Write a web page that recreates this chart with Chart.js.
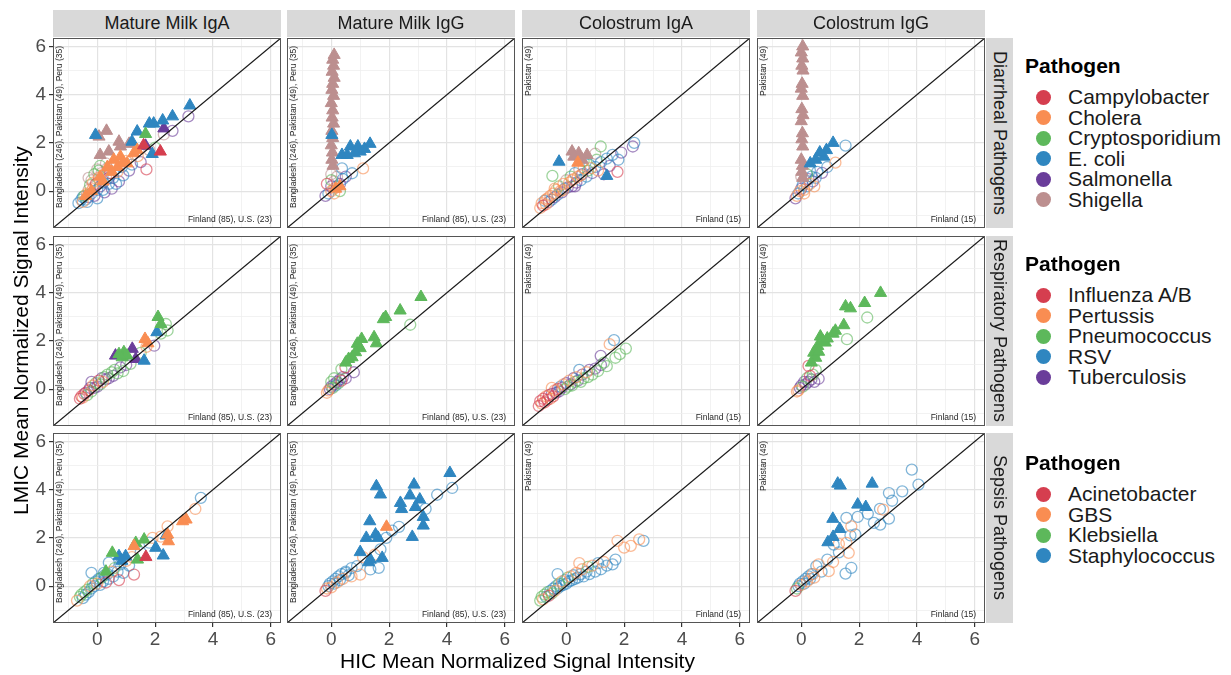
<!DOCTYPE html>
<html>
<head>
<meta charset="utf-8">
<script src="https://cdn.jsdelivr.net/npm/chart.js@4"></script>
<style>
  body { margin: 0; background: #fff; font-family: 'Liberation Sans', Arial, sans-serif; }
  #wrap { position: relative; width: 1231px; height: 675px; overflow: hidden; }
  #wrap canvas { position: absolute; }
  .strip { position: absolute; background: #D9D9D9; color: #1A1A1A; font-size: 18px;
           display: flex; align-items: center; justify-content: center; white-space: nowrap; }
  .vstrip { writing-mode: vertical-rl; }
  .lab { position: absolute; white-space: nowrap; color: #000; }
  .note { position: absolute; white-space: nowrap; font-size: 8.5px; color: #262626; line-height: 10px; }
  .up { writing-mode: vertical-rl; transform: rotate(180deg); }
  .dot { position: absolute; width: 15px; height: 15px; border-radius: 50%; }
</style>
</head>
<body>
<div id="wrap"></div>
<script>
// facets and groups
const facetCols = ['Mature Milk IgA', 'Mature Milk IgG', 'Colostrum IgA', 'Colostrum IgG'];
const facetRows = ['Diarrheal Pathogens', 'Respiratory Pathogens', 'Sepsis Pathogens'];
const diarrhealPathogens = ['Campylobacter', 'Cholera', 'Cryptosporidium', 'E. coli', 'Salmonella', 'Shigella'];
const respiratoryPathogens = ['Influenza A/B', 'Pertussis', 'Pneumococcus', 'RSV', 'Tuberculosis'];
const sepsisPathogens = ['Acinetobacter', 'GBS', 'Klebsiella', 'Staphylococcus'];
const pathogenColors = ['#D53E4F', '#F98D52', '#5DB85B', '#2F86C0', '#6A3D9A', '#BC8F8F'];
const lmicNotes = ['Bangladesh (246), Pakistan (49), Peru (35)', 'Bangladesh (246), Pakistan (49), Peru (35)', 'Pakistan (49)', 'Pakistan (49)'];
const hicNotes = ['Finland (85), U.S. (23)', 'Finland (85), U.S. (23)', 'Finland (15)', 'Finland (15)'];
const tickVals = [-1, 0, 1, 2, 3, 4, 5, 6];
const axMin = -1.53, axMax = 6.35;

// points: [HIC, LMIC, pathogen index, triangle?]
const diarMMIgA = [
  [-0.65,-0.5,3,0],[-0.55,-0.35,3,0],[-0.5,-0.45,1,0],[-0.45,-0.2,2,0],[-0.4,-0.35,3,0],[-0.35,-0.1,1,0],
  [-0.3,0.05,5,0],[-0.3,-0.25,4,0],[-0.25,0.25,2,0],[-0.2,-0.1,3,0],[-0.2,0.45,5,0],[-0.15,0.1,1,0],
  [-0.1,0.7,2,0],[-0.1,-0.2,4,0],[-0.05,0.3,0,0],[0,0.9,5,0],[0,0.05,3,0],[0.05,0.55,1,0],[0.1,0.2,4,0],
  [0.1,1.05,2,0],[0.15,0.75,5,0],[0.2,0.35,3,0],[0.25,-0.05,4,0],[0.3,0.6,1,0],[0.35,0.95,5,0],[0.4,0.3,3,0],
  [0.45,0.75,0,0],[0.5,0.1,4,0],[0.55,0.55,3,0],[0.6,1.1,2,0],[0.7,0.8,1,0],[0.75,0.4,4,0],[0.85,1.0,3,0],
  [0.9,0.65,3,0],[1.0,1.25,1,0],[1.1,0.85,4,0],[1.2,1.1,3,0],[1.4,1.45,1,0],[1.5,1.2,4,0],[1.7,0.9,0,0],
  [1.8,1.7,5,0],[2.0,1.8,2,0],[2.3,2.35,5,0],[2.6,2.5,4,0],[3.15,3.1,4,0],[-0.3,0.55,5,0],[0.0,-0.3,3,0],[0.3,1.15,5,0],
  [-0.5,-0.25,3,0],[-0.35,-0.45,3,0],[-0.15,0.35,1,0],[0.05,0.85,2,0],[0.2,0.05,3,0],[0.4,0.55,4,0],[0.65,0.3,3,0],
  [3.2,3.55,3,1],[2.6,3.1,3,1],[2.26,2.93,3,1],[1.95,2.8,3,1],[1.8,2.8,3,1],[1.38,2.47,3,1],[-0.06,2.33,3,1],
  [2.3,2.6,4,1],[1.67,2.37,2,1],[0.06,2.26,5,1],[0.32,2.5,5,1],[0.75,2.05,5,1],[1.1,1.96,5,1],[0.1,1.5,5,1],
  [0.4,1.64,5,1],[0.8,1.85,5,1],[2.18,1.64,0,1],[1.6,1.9,0,1],[1.67,1.88,4,1],[1.9,1.54,3,1],[1.2,2.05,3,1],
  [0.57,1.3,1,1],[0.8,1.43,1,1],[1.26,1.57,1,1],[1.03,1.15,1,1],[0.35,1.0,1,1],[0.1,0.6,1,1],[0.7,1.0,1,1],
  [1.38,1.7,1,1],[0.9,1.2,1,1],[0.5,0.8,1,1],[0.2,0.4,1,1],[-0.2,0.0,1,1],[-0.4,-0.2,1,1]
];
const diarMMIgG = [
  [-0.2,-0.2,4,0],[-0.1,-0.1,3,0],[0,0,1,0],[0,0.2,4,0],[0.1,0.1,1,0],[0.1,0.4,5,0],[0.2,0.2,3,0],
  [0.3,0.3,4,0],[0.2,0.6,5,0],[0.4,0.5,3,0],[0,0.7,5,0],[0.1,-0.1,1,0],[0.3,0.0,2,0],[0.37,0.94,3,0],
  [0.72,0.74,3,0],[1.1,0.94,1,0],[0.5,0.6,4,0],[-0.15,0.3,0,0],[0.0,0.45,2,0],
  [0.1,5.65,5,1],[0.05,5.45,5,1],[0.08,5.2,5,1],[0.03,4.95,5,1],[0.1,4.7,5,1],[0.05,4.45,5,1],[0.02,4.2,5,1],
  [0.08,3.95,5,1],[0.0,3.65,5,1],[0.05,3.35,5,1],[0.03,3.05,5,1],[0.08,2.8,5,1],[0.02,2.5,5,1],[0.05,2.2,5,1],
  [0.0,1.9,5,1],[0.04,1.6,5,1],[0.02,1.3,5,1],[0.06,1.05,5,1],
  [0.02,2.33,3,1],[0.37,1.5,3,1],[0.66,1.85,3,1],[0.92,1.85,3,1],[1.34,1.96,3,1],[1.0,1.64,3,1],[0.8,1.57,3,1],
  [0.55,1.5,3,1],[1.15,1.75,3,1],[0.15,0.1,1,1],[0.3,0.2,1,1]
];
const diarColIgA = [
  [-0.9,-0.7,1,0],[-0.85,-0.5,1,0],[-0.8,-0.6,0,0],[-0.75,-0.4,3,0],[-0.7,-0.55,1,0],[-0.65,-0.3,1,0],
  [-0.6,-0.45,4,0],[-0.55,-0.2,1,0],[-0.5,-0.35,3,0],[-0.48,0.63,2,0],[-0.45,-0.1,1,0],[-0.4,-0.25,4,0],
  [-0.35,0.05,1,0],[-0.3,-0.15,3,0],[-0.25,0.2,2,0],[-0.2,0.0,1,0],[-0.15,-0.05,4,0],[-0.1,0.3,1,0],
  [-0.05,0.1,3,0],[0,0.45,5,0],[0.05,0.15,4,0],[0.1,0.35,1,0],[0.15,0.6,2,0],[0.2,0.2,4,0],[0.25,0.5,1,0],
  [0.3,0.75,3,0],[0.35,0.35,4,0],[0.4,0.6,1,0],[0.45,0.9,5,0],[0.5,0.45,3,0],[0.55,0.7,4,0],[0.6,0.95,1,0],
  [0.7,0.6,3,0],[0.75,0.85,2,0],[0.8,1.1,3,0],[0.9,0.75,4,0],[1.0,1.0,3,0],[1.05,1.3,2,0],[1.1,0.85,1,0],
  [1.2,1.2,3,0],[1.3,0.7,4,0],[1.4,1.35,3,0],[1.5,1.05,4,0],[1.6,1.5,3,0],[1.77,0.8,0,0],[1.8,1.3,3,0],
  [1.19,1.85,2,0],[2.3,1.85,4,0],[2.35,2.0,3,0],[1.9,1.6,4,0],[1.0,1.55,5,0],[0.6,1.25,2,0],
  [-0.7,-0.35,1,0],[-0.4,0.1,1,0],[-0.1,0.05,1,0],[0.2,0.45,1,0],[0.5,0.65,1,0],[0.3,0.2,4,0],[0.85,0.95,1,0],
  [-0.25,1.22,3,1],[0.2,1.64,5,1],[0.43,1.57,5,1],[0.72,1.5,5,1],[0.26,1.43,5,1],[0.4,1.18,1,1],[1.4,0.63,3,1],[0.55,1.3,5,1]
];
const diarColIgG = [
  [1.53,1.89,3,0],[1.18,1.18,1,0],[0.72,0.76,4,0],[0.9,1.0,3,0],[-0.2,-0.3,4,0],[-0.15,-0.2,1,0],
  [-0.1,-0.1,3,0],[-0.05,0.0,1,0],[0,0.1,4,0],[0.05,0.25,3,0],[0.1,0.05,1,0],[0.15,0.4,5,0],[0.2,0.2,3,0],
  [0.25,0.5,4,0],[0.3,0.3,1,0],[0.35,0.6,3,0],[0.4,0.4,4,0],[0.5,0.55,3,0],[0.55,0.8,3,0],[0.0,0.6,5,0],
  [0.1,-0.1,1,0],[0.2,0.7,2,0],[0.45,0.2,1,0],[0.3,0.85,3,0],
  [0.05,6.0,5,1],[0.0,5.75,5,1],[0.05,5.5,5,1],[0.02,5.2,5,1],[0.06,5.0,5,1],[0.03,4.45,5,1],[0.0,4.25,5,1],
  [0.05,3.95,5,1],[0.02,3.4,5,1],[0.06,3.15,5,1],[0.0,2.9,5,1],[0.04,2.4,5,1],[0.02,2.15,5,1],[0.05,1.85,5,1],
  [0.0,1.3,5,1],[0.04,1.05,5,1],[0.02,0.8,5,1],[0.05,0.55,5,1],
  [1.1,2.0,3,1],[0.87,1.7,3,1],[0.78,1.43,3,1],[0.31,1.15,3,1],[0.64,1.6,3,1],[0.5,1.3,3,1]
];
const respMMIgA = [
  [-0.6,-0.4,0,0],[-0.55,-0.3,0,0],[-0.5,-0.35,1,0],[-0.45,-0.2,0,0],[-0.4,-0.15,4,0],[-0.35,-0.25,2,0],
  [-0.3,-0.05,0,0],[-0.25,0.05,4,0],[-0.2,-0.1,2,0],[-0.15,0.15,1,0],[-0.1,0.05,4,0],[-0.05,0.25,2,0],
  [0,0.1,4,0],[0.05,0.35,0,0],[0.1,0.2,2,0],[0.15,0.45,4,0],[0.2,0.3,1,0],[0.25,0.5,2,0],[0.3,0.4,4,0],
  [0.35,0.6,2,0],[0.4,0.45,4,0],[0.5,0.7,2,0],[0.55,0.55,4,0],[0.6,0.8,2,0],[0.7,0.65,2,0],[0.8,0.9,4,0],
  [0.9,0.75,2,0],[1.0,1.0,4,0],[1.15,1.05,2,0],[1.5,1.5,2,0],[1.7,1.75,1,0],[1.97,1.8,4,0],[2.2,2.3,2,0],
  [2.43,2.43,2,0],[2.37,2.7,2,0],[-0.2,0.3,4,0],
  [2.1,2.99,2,1],[2.2,2.7,2,1],[0.92,1.53,2,1],[0.86,1.32,2,1],[1.03,1.39,2,1],[2.06,2.36,3,1],[1.62,1.18,3,1],
  [1.65,2.08,1,1],[0.63,1.39,4,1],[1.21,1.67,4,1],[1.33,1.25,4,1],[0.75,1.45,2,1],[1.75,1.9,1,1]
];
const respMMIgG = [
  [2.73,2.67,2,0],[0.35,0.83,2,0],[0.78,0.7,4,0],[0.49,0.9,0,0],[-0.15,-0.15,1,0],[-0.1,-0.05,1,0],
  [-0.05,0.0,4,0],[0,0.1,4,0],[0.05,0.05,2,0],[0.1,0.2,4,0],[0.15,0.15,3,0],[0.2,0.3,4,0],[0.25,0.25,2,0],
  [0.3,0.4,4,0],[0.35,0.35,0,0],[0.4,0.5,4,0],[0.1,0.45,2,0],[0.5,0.45,4,0],[0.0,0.3,2,0],
  [3.1,3.82,2,1],[2.38,3.26,2,1],[1.88,2.99,2,1],[1.8,2.9,2,1],[1.48,2.15,2,1],[1.05,2.08,2,1],[0.9,1.88,2,1],
  [1.0,1.7,2,1],[1.56,1.9,2,1],[0.72,1.32,2,1],[0.6,1.25,2,1],[0.84,1.53,2,1],[0.5,1.1,2,1]
];
const respColIgA = [
  [-0.95,-0.7,0,0],[-0.9,-0.5,0,0],[-0.85,-0.6,1,0],[-0.8,-0.4,0,0],[-0.75,-0.55,0,0],[-0.7,-0.3,1,0],
  [-0.65,-0.45,0,0],[-0.6,-0.25,0,0],[-0.55,-0.4,1,0],[-0.5,-0.2,4,0],[-0.45,-0.3,0,0],[-0.4,-0.05,1,0],
  [-0.35,-0.15,4,0],[-0.3,0.0,0,0],[-0.25,-0.1,4,0],[-0.2,0.1,3,0],[-0.15,0.05,4,0],[-0.1,0.2,1,0],
  [-0.05,0.0,2,0],[0,0.25,4,0],[0.05,0.1,2,0],[0.1,0.35,1,0],[0.15,0.2,4,0],[0.2,0.15,2,0],[0.25,0.45,4,0],
  [0.3,0.3,2,0],[0.35,0.5,1,0],[0.4,0.35,4,0],[0.5,0.3,2,0],[0.55,0.6,4,0],[0.6,0.45,2,0],[0.7,0.7,1,0],
  [0.75,0.5,2,0],[0.8,0.8,4,0],[0.9,0.6,2,0],[1.0,0.85,4,0],[1.1,0.75,2,0],[1.19,1.38,4,0],[1.3,1.1,2,0],
  [1.4,0.95,2,0],[1.5,1.86,1,0],[1.65,2.03,3,0],[1.7,1.3,2,0],[2.06,1.68,2,0],[1.85,1.45,2,0],[1.2,1.0,4,0],
  [0.45,0.8,3,0],[-0.5,0.05,1,0]
];
const respColIgG = [
  [2.28,2.97,2,0],[1.58,2.07,2,0],[0.5,0.8,2,0],[0.25,0.96,0,0],[0.6,0.43,4,0],[-0.15,-0.1,1,0],
  [-0.1,-0.05,1,0],[-0.05,0.05,4,0],[0,0.15,4,0],[0.05,0.1,2,0],[0.1,0.3,4,0],[0.15,0.2,4,0],[0.2,0.45,2,0],
  [0.25,0.3,4,0],[0.3,0.55,0,0],[0.35,0.4,4,0],[0.4,0.6,2,0],[0.45,0.3,4,0],
  [2.74,3.99,2,1],[2.19,3.57,2,1],[1.53,3.43,2,1],[1.7,3.35,2,1],[1.47,2.65,2,1],[1.18,2.42,2,1],[1.1,2.3,2,1],
  [0.66,2.18,2,1],[0.83,1.93,2,1],[0.57,1.79,2,1],[0.43,1.51,2,1],[0.75,2.0,2,1],[0.5,1.3,2,1],[0.35,1.1,2,1],
  [0.6,1.55,2,1],[0.9,2.1,2,1]
];
const sepsMMIgA = [
  [-0.7,-0.6,1,0],[-0.6,-0.45,2,0],[-0.55,-0.35,2,0],[-0.5,-0.5,3,0],[-0.45,-0.25,2,0],[-0.4,-0.35,3,0],
  [-0.35,-0.15,2,0],[-0.3,-0.25,3,0],[-0.25,0.0,1,0],[-0.2,-0.1,3,0],[-0.15,0.1,2,0],[-0.1,0.0,3,0],
  [-0.05,0.2,3,0],[0,0.1,1,0],[0.05,0.3,3,0],[0.1,0.05,3,0],[0.15,0.35,2,0],[0.2,0.2,3,0],[0.25,0.45,3,0],
  [0.3,0.15,0,0],[0.35,0.5,3,0],[0.4,0.3,3,0],[0.4,0.97,3,0],[0.23,0.55,3,0],[0.5,0.6,1,0],[0.55,0.4,3,0],
  [0.6,0.75,2,0],[0.7,0.6,3,0],[0.8,0.9,3,0],[0.9,0.55,3,0],[1.0,1.05,1,0],[1.1,0.85,3,0],[1.27,0.48,0,0],
  [1.2,1.2,1,0],[1.5,1.4,3,0],[1.8,1.8,3,0],[1.91,2.0,1,0],[2.2,2.05,1,0],[2.43,2.48,1,0],[3.39,3.2,1,0],
  [3.58,3.66,3,0],[-0.2,0.55,3,0],[0.75,0.25,0,0],
  [2.95,2.69,1,1],[3.07,2.76,1,1],[2.43,2.14,1,1],[2.46,1.86,1,1],[2.38,2.1,3,1],[2.02,1.59,3,1],[2.28,1.27,3,1],
  [0.98,1.24,3,1],[0.75,1.24,3,1],[1.33,1.79,2,1],[1.62,1.93,2,1],[0.52,1.38,2,1],[1.39,1.1,2,1],[1.68,1.21,0,1],
  [1.27,1.66,1,1],[0.85,1.05,3,1],[0.3,0.6,2,1]
];
const sepsMMIgG = [
  [4.18,4.07,3,0],[3.66,3.79,3,0],[3.26,3.2,3,0],[2.34,2.46,3,0],[2.1,2.3,3,0],[1.7,1.52,3,0],[1.64,0.76,3,0],
  [1.35,0.69,3,0],[0.89,0.83,3,0],[0.5,0.6,3,0],[1.9,2.0,3,0],[1.0,0.48,1,0],[0.7,0.4,1,0],[1.5,1.3,1,0],
  [1.1,1.2,1,0],[-0.2,-0.2,0,0],[-0.15,-0.1,1,0],[-0.1,0.0,3,0],[-0.05,0.1,3,0],[0,-0.05,1,0],[0.05,0.2,3,0],
  [0.1,0.1,3,0],[0.15,0.3,3,0],[0.2,0.15,1,0],[0.25,0.4,3,0],[0.3,0.25,3,0],[0.35,0.5,3,0],[0.4,0.3,1,0],
  [0.5,0.55,3,0],[0.6,0.45,3,0],[0.7,0.75,3,0],
  [4.1,4.69,3,1],[1.56,4.14,3,1],[1.7,3.8,3,1],[2.86,4.21,3,1],[2.72,3.76,3,1],[2.39,3.45,3,1],[3.06,3.59,3,1],
  [2.43,3.2,3,1],[2.91,3.28,3,1],[3.18,2.87,3,1],[3.18,2.51,3,1],[1.33,2.69,3,1],[1.53,2.14,3,1],[1.62,2.0,3,1],
  [1.21,2.0,3,1],[2.8,2.04,3,1],[1.0,1.41,3,1],[1.29,0.99,3,1],[1.76,1.17,3,1],[1.35,1.1,3,1],[1.91,2.46,1,1]
];
const sepsColIgA = [
  [-0.9,-0.6,2,0],[-0.85,-0.45,2,0],[-0.8,-0.55,1,0],[-0.75,-0.35,2,0],[-0.7,-0.45,3,0],[-0.65,-0.25,2,0],
  [-0.6,-0.4,0,0],[-0.55,-0.2,3,0],[-0.5,-0.3,2,0],[-0.45,-0.1,3,0],[-0.4,-0.2,1,0],[-0.35,0.0,3,0],
  [-0.3,-0.1,3,0],[-0.25,0.1,2,0],[-0.2,0.0,3,0],[-0.15,0.2,1,0],[-0.1,0.05,3,0],[-0.05,0.25,3,0],[0,0.1,3,0],
  [0.05,0.35,2,0],[0.1,0.2,3,0],[0.15,0.4,1,0],[0.2,0.25,3,0],[0.25,0.45,3,0],[0.3,0.3,3,0],[0.35,0.55,1,0],
  [0.4,0.35,3,0],[0.5,0.5,3,0],[0.55,0.7,1,0],[0.6,0.4,3,0],[0.7,0.6,3,0],[0.75,0.8,2,0],[0.8,0.5,3,0],
  [0.9,0.85,1,0],[1.0,0.6,3,0],[1.1,0.95,3,0],[1.2,0.7,3,0],[1.3,1.0,1,0],[1.4,0.85,3,0],[1.6,0.9,3,0],
  [1.7,1.1,3,0],[1.77,1.88,1,0],[2.0,1.6,1,0],[2.23,1.67,1,0],[2.52,1.94,1,0],[2.67,1.88,3,0],[-0.3,0.5,3,0],
  [0.45,0.95,1,0]
];
const sepsColIgG = [
  [3.82,4.83,3,0],[4.05,4.21,3,0],[3.49,3.93,3,0],[3.03,3.86,3,0],[3.14,3.54,3,0],[3.03,2.8,3,0],[2.73,2.55,3,0],
  [2.72,3.2,3,0],[2.51,2.62,3,0],[2.3,3.0,3,0],[1.95,2.87,3,0],[1.56,2.83,3,0],[1.87,2.14,3,0],[1.7,2.1,3,0],
  [1.73,0.76,3,0],[1.53,0.52,3,0],[1.12,1.72,3,0],[1.3,1.4,3,0],[0.52,0.83,3,0],[0.7,0.6,3,0],[0.9,1.1,3,0],
  [2.83,3.17,1,0],[1.73,2.48,1,0],[1.56,1.79,1,0],[1.64,1.38,1,0],[1.3,1.75,1,0],[0.95,0.62,1,0],[1.1,1.0,1,0],
  [0.6,0.9,1,0],[0.4,0.5,1,0],[-0.2,-0.2,0,0],[-0.15,-0.1,2,0],[-0.1,0.0,3,0],[-0.05,0.1,3,0],[0,0.05,1,0],
  [0.05,0.2,3,0],[0.1,0.1,3,0],[0.15,0.3,3,0],[0.2,0.2,1,0],[0.25,0.4,3,0],[0.3,0.3,3,0],[0.35,0.5,3,0],[0.45,0.35,1,0],
  [1.26,4.25,3,1],[1.35,4.17,3,1],[2.45,4.25,3,1],[1.95,3.38,3,1],[2.23,3.28,3,1],[1.09,2.79,3,1],[1.33,2.37,3,1],
  [1.1,2.04,3,1],[0.92,1.82,3,1]
];

const panelData = [
  [diarMMIgA, diarMMIgG, diarColIgA, diarColIgG],
  [respMMIgA, respMMIgG, respColIgA, respColIgG],
  [sepsMMIgA, sepsMMIgG, sepsColIgA, sepsColIgG]
];
const rowPathogens = [diarrhealPathogens, respiratoryPathogens, sepsisPathogens];

// layout
const colLeft = [53, 287, 522, 757];
const rowTop = [38, 236, 433];
const panelW = 228, panelH = 190;
const pad = 18; // room around each panel so tick labels never push the plot area
const wrap = document.getElementById('wrap');

function rgba(hex, a) {
  const n = parseInt(hex.slice(1), 16);
  return `rgba(${n >> 16},${(n >> 8) & 255},${n & 255},${a})`;
}
function add(cls, css, text) {
  const d = document.createElement('div');
  d.className = cls;
  d.style.cssText = css;
  if (text !== undefined) d.textContent = text;
  wrap.appendChild(d);
  return d;
}

const panelBorder = {
  id: 'panelBorder',
  afterDraw(chart) {
    const a = chart.chartArea, ctx = chart.ctx;
    ctx.save();
    ctx.strokeStyle = '#555';
    ctx.lineWidth = 1;
    ctx.strokeRect(a.left + 0.5, a.top + 0.5, a.right - a.left - 1, a.bottom - a.top - 1);
    ctx.restore();
  }
};

const tickFont = { family: "'Liberation Sans', Arial, sans-serif", size: 19 };

function axis(showTicks, size, horizontal) {
  return {
    type: 'linear', min: axMin, max: axMax,
    afterBuildTicks: s => { s.ticks = tickVals.map(v => ({ value: v })); },
    afterFit: s => { if (horizontal) s.height = size; else s.width = size; },
    border: { display: false },
    grid: {
      color: c => (c.tick && c.tick.value % 2 === 0) ? '#E3E3E3' : '#EFEFEF',
      lineWidth: c => (c.tick && c.tick.value % 2 === 0) ? 1.2 : 0.8,
      drawTicks: showTicks, tickLength: 4,
      tickColor: c => (c.tick && c.tick.value % 2 === 0) ? '#333' : 'rgba(0,0,0,0)'
    },
    ticks: {
      display: showTicks, autoSkip: false, maxRotation: 0, color: '#4D4D4D', font: tickFont,
      padding: horizontal ? 1 : 3,
      callback: v => (v % 2 === 0 ? v : '')
    }
  };
}

function makePanel(r, c) {
  const pts = panelData[r][c];
  const names = rowPathogens[r];
  const padL = c === 0 ? 46 : pad;
  const padB = r === 2 ? 34 : pad;
  const cv = document.createElement('canvas');
  cv.width = panelW + padL + pad;
  cv.height = panelH + pad + padB;
  cv.style.left = (colLeft[c] - padL) + 'px';
  cv.style.top = (rowTop[r] - pad) + 'px';
  wrap.appendChild(cv);

  const datasets = [{
    data: [{ x: axMin, y: axMin }, { x: axMax, y: axMax }],
    showLine: true, borderColor: '#1A1A1A', borderWidth: 1.3, pointRadius: 0, order: 0
  }];
  names.forEach((name, p) => {
    const col = pathogenColors[p];
    datasets.push({
      label: name + ' (LMIC higher)',
      data: pts.filter(d => d[2] === p && d[3] === 1).map(d => ({ x: d[0], y: d[1] })),
      pointStyle: 'triangle', pointRadius: 7, backgroundColor: col, borderColor: col, borderWidth: 1, order: 1
    });
    datasets.push({
      label: name,
      data: pts.filter(d => d[2] === p && d[3] === 0).map(d => ({ x: d[0], y: d[1] })),
      pointStyle: 'circle', pointRadius: 5.5, backgroundColor: 'rgba(0,0,0,0)',
      borderColor: rgba(col, 0.6), borderWidth: 1.3, order: 2
    });
  });

  new Chart(cv, {
    type: 'scatter',
    data: { datasets },
    options: {
      responsive: false, animation: false, events: [],
      layout: { padding: { top: pad, right: pad, left: c === 0 ? 0 : pad, bottom: r === 2 ? 0 : pad } },
      plugins: { legend: { display: false }, tooltip: { enabled: false } },
      scales: {
        x: axis(r === 2, r === 2 ? 34 : 0, true),
        y: axis(c === 0, c === 0 ? 46 : 0, false)
      }
    },
    plugins: [panelBorder]
  });

  // sample size notes
  add('note up', `left:${colLeft[c] + 1}px;top:${rowTop[r] + 8}px;`, lmicNotes[c]);
  add('note', `right:${1231 - (colLeft[c] + panelW) + 9}px;top:${rowTop[r] + panelH - 14}px;`, hicNotes[c]);
}

for (let r = 0; r < 3; r++) for (let c = 0; c < 4; c++) makePanel(r, c);

// strips
facetCols.forEach((t, c) => add('strip', `left:${colLeft[c]}px;top:10px;width:${panelW}px;height:27px;`, t));
facetRows.forEach((t, r) => add('strip vstrip', `left:986px;top:${rowTop[r]}px;width:27px;height:${panelH}px;`, t));

// axis titles
add('lab', 'left:0;width:1035px;text-align:center;font-size:21px;top:649px;', 'HIC Mean Normalized Signal Intensity');
add('lab up', 'left:9px;top:0;height:662px;text-align:center;font-size:21px;', 'LMIC Mean Normalized Signal Intensity');

// legends
const legendTop = [66, 264, 463];
rowPathogens.forEach((names, r) => {
  add('lab', `left:1025px;top:${legendTop[r] - 12}px;font-size:21px;font-weight:bold;`, 'Pathogen');
  names.forEach((name, i) => {
    const cy = legendTop[r] + 31 + i * 20.5;
    add('dot', `left:1036px;top:${cy - 7.5}px;background:${pathogenColors[i]};`);
    add('lab', `left:1068px;top:${cy - 12}px;font-size:21px;line-height:24px;color:#1A1A1A;`, name);
  });
});
</script>
</body>
</html>
